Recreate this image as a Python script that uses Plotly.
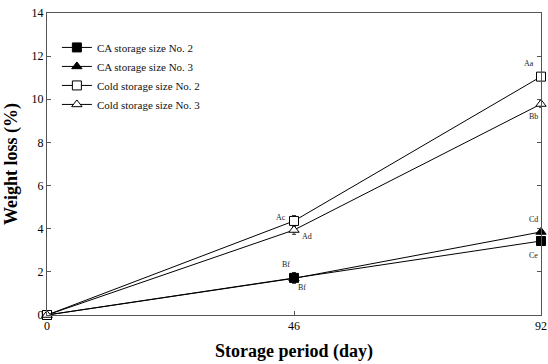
import plotly.graph_objects as go

days = [0, 46, 92]
ca2 = [0, 1.72, 3.43]
ca3 = [0, 1.70, 3.85]
cold2 = [0, 4.36, 11.05]
cold3 = [0, 3.94, 9.78]
ca2_err = [0, 0.25, 0.1]
ca3_err = [0, 0.2, 0.1]
cold2_err = [0, 0.25, 0.15]
cold3_err = [0, 0.2, 0.15]
series_names = ["CA storage size No. 2", "CA storage size No. 3",
                "Cold storage size No. 2", "Cold storage size No. 3"]
letters = {
    "ca2": ["", "Bf", "Ce"],
    "ca3": ["", "Bf", "Cd"],
    "cold2": ["", "Ac", "Aa"],
    "cold3": ["", "Ad", "Bb"],
}

FONT = "Liberation Serif, Times New Roman, serif"

fig = go.Figure()
specs = [
    (ca2, ca2_err, "square", "black"),
    (ca3, ca3_err, "triangle-up", "black"),
    (cold2, cold2_err, "square", "white"),
    (cold3, cold3_err, "triangle-up", "white"),
]
for (vals, err, sym, fill), name in zip(specs, series_names):
    fig.add_trace(go.Scatter(
        x=days, y=vals, name=name, mode="lines+markers",
        line=dict(color="black", width=1),
        marker=dict(symbol=sym, size=9, color=fill, line=dict(color="black", width=1)),
        error_y=dict(type="data", array=err, color="black", thickness=0.8, width=2),
        cliponaxis=False,
    ))

ann_font = dict(family=FONT, size=8, color="#222")
ann = [
    (46, ca2[1], letters["ca2"][1], -8, -13),
    (46, ca3[1], letters["ca3"][1], 8, 9),
    (92, ca3[2], letters["ca3"][2], -8, -12),
    (92, ca2[2], letters["ca2"][2], -8, 14),
    (46, cold2[1], letters["cold2"][1], -13, -3),
    (46, cold3[1], letters["cold3"][1], 13, 6),
    (92, cold2[2], letters["cold2"][2], -12, -13),
    (92, cold3[2], letters["cold3"][2], -8, 12),
]
for x, y, t, ax, ay in ann:
    fig.add_annotation(x=x, y=y, text=t, showarrow=False, xshift=ax, yshift=-ay,
                       font=ann_font)

fig.update_layout(
    width=548, height=364,
    margin=dict(l=47, r=7, t=13, b=49, autoexpand=False),
    paper_bgcolor="white", plot_bgcolor="white",
    font=dict(family=FONT, size=12, color="black"),
    showlegend=True,
    legend=dict(x=0.02, y=0.934, xanchor="left", yanchor="top",
                bgcolor="rgba(0,0,0,0)", font=dict(family=FONT, size=11, color="#111"),
                tracegroupgap=0, itemwidth=30),
    xaxis=dict(range=[0, 92], tickvals=days, ticktext=["0", "46", "92"],
               ticks="inside", ticklen=4, tickcolor="#555", automargin=False,
               ticklabeloverflow="allow",
               showline=True, linecolor="#555", linewidth=1, mirror=True,
               showgrid=False, zeroline=False,
               title=dict(text="<b>Storage period (day)</b>",
                          font=dict(family=FONT, size=18, color="black"), standoff=11),
               tickfont=dict(family=FONT, size=12)),
    yaxis=dict(range=[0, 14], dtick=2, ticks="inside", ticklen=4, tickcolor="#555",
               automargin=False, ticklabeloverflow="allow",
               showline=True, linecolor="#555", linewidth=1, mirror="ticks",
               showgrid=False, zeroline=False,
               title=dict(text="<b>Weight loss (%)</b>",
                          font=dict(family=FONT, size=18, color="black"), standoff=9),
               tickfont=dict(family=FONT, size=12)),
)
fig.write_html(
    "out.html",
    config={"displayModeBar": False},
    post_script="document.body.style.margin='0';document.documentElement.style.overflow='hidden';",
)
